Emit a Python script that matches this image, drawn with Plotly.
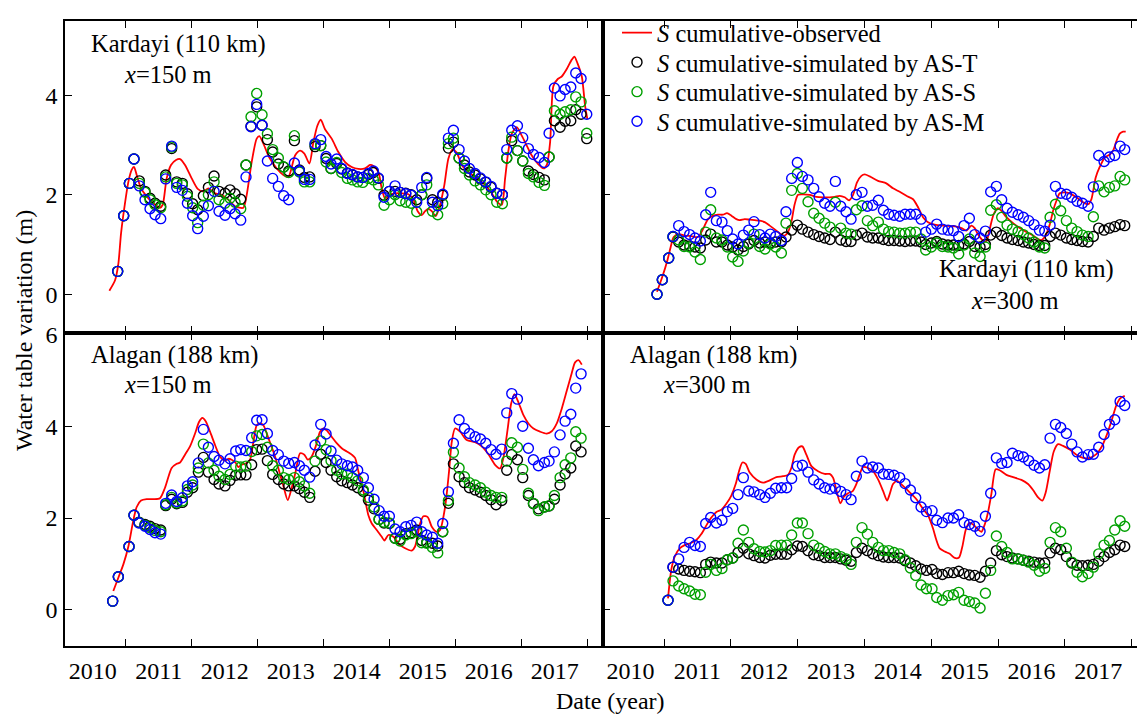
import plotly.graph_objects as go

FONT = "Liberation Serif"
RED, BLACK, GREEN, BLUE = "#ff0000", "#000000", "#00a000", "#0000ff"

# ---------------- tick labels ----------------
year_labels = ["2010", "2011", "2012", "2013", "2014", "2015", "2016", "2017"]
year_label_pos = [2010.5, 2011.5, 2012.5, 2013.5, 2014.5, 2015.5, 2016.5, 2017.5]
year_bounds = [2011, 2012, 2013, 2014, 2015, 2016, 2017, 2018]

# ---------------- Kardayi x=150 m (top-left) ----------------
tl_x = [2010.878, 2010.969, 2011.055, 2011.125, 2011.206, 2011.292, 2011.368, 2011.444, 2011.530, 2011.605,
        2011.696, 2011.772, 2011.858, 2011.934, 2012.014, 2012.090, 2012.176, 2012.252, 2012.338, 2012.413,
        2012.504, 2012.580, 2012.656, 2012.742, 2012.822, 2012.898, 2012.984, 2013.065, 2013.146, 2013.226,
        2013.312, 2013.393, 2013.469, 2013.555, 2013.631, 2013.706, 2013.787, 2013.868, 2013.954, 2014.035,
        2014.110, 2014.196, 2014.272, 2014.358, 2014.434, 2014.514, 2014.590, 2014.676, 2014.752, 2014.827,
        2014.913, 2014.994, 2015.080, 2015.156, 2015.242, 2015.323, 2015.408, 2015.484, 2015.560, 2015.646,
        2015.726, 2015.802, 2015.888, 2015.964, 2016.050, 2016.131, 2016.206, 2016.292, 2016.373, 2016.454,
        2016.534, 2016.620, 2016.706, 2016.772, 2016.848, 2016.934, 2017.014, 2017.100, 2017.176, 2017.262,
        2017.343, 2017.413, 2017.494, 2017.580, 2017.656, 2017.742, 2017.817, 2017.898, 2017.984]
tl_T = [0.46, 1.58, 2.23, 2.72, 2.28, 2.07, 1.93, 1.83, 1.77, 2.40,
        2.93, 2.26, 2.23, 2.02, 1.82, 1.70, 1.98, 2.15, 2.38, 2.07,
        2.03, 2.10, 2.02, 1.91, 2.60, 3.38, 3.77, 3.40, 3.11, 2.86,
        2.62, 2.56, 2.48, 3.09, 2.50, 2.35, 2.36, 2.97, 2.99, 2.73,
        2.53, 2.63, 2.52, 2.44, 2.40, 2.36, 2.35, 2.41, 2.45, 2.33,
        1.99, 2.07, 2.07, 2.05, 2.03, 2.00, 1.90, 2.00, 2.33, 1.90,
        1.85, 1.99, 2.94, 3.06, 2.74, 2.60, 2.46, 2.40, 2.32, 2.25,
        2.15, 2.03, 2.00, 2.74, 3.09, 2.89, 2.68, 2.48, 2.41, 2.35,
        2.30, 2.76, 3.49, 3.36, 3.48, 3.49, 3.71, 3.62, 3.13]
tl_S = [0.46, 1.58, 2.23, 2.72, 2.23, 2.05, 1.90, 1.80, 1.74, 2.36,
        2.96, 2.23, 2.20, 1.97, 1.74, 1.44, 1.79, 2.00, 2.26, 1.90,
        1.83, 1.93, 1.85, 1.72, 2.60, 3.57, 4.04, 3.61, 3.23, 2.91,
        2.74, 2.56, 2.45, 3.19, 2.46, 2.26, 2.26, 3.01, 2.99, 2.66,
        2.53, 2.65, 2.45, 2.33, 2.30, 2.26, 2.25, 2.33, 2.30, 2.20,
        1.79, 1.90, 2.00, 1.88, 1.85, 1.83, 1.66, 2.00, 2.20, 1.67,
        1.60, 1.82, 3.03, 3.14, 2.74, 2.53, 2.40, 2.28, 2.20, 2.10,
        2.00, 1.85, 1.82, 2.74, 3.16, 2.89, 2.68, 2.43, 2.36, 2.25,
        2.19, 2.76, 3.69, 3.62, 3.67, 3.71, 3.97, 3.87, 3.24]
tl_M = [0.46, 1.58, 2.23, 2.72, 2.18, 1.90, 1.72, 1.60, 1.52, 2.32,
        2.98, 2.15, 2.09, 1.83, 1.58, 1.32, 1.57, 1.78, 2.07, 1.67,
        1.59, 1.72, 1.62, 1.49, 2.36, 3.37, 3.82, 3.40, 2.68, 2.33,
        2.17, 1.98, 1.90, 2.64, 2.48, 2.31, 2.31, 3.03, 3.11, 2.77,
        2.62, 2.72, 2.53, 2.43, 2.41, 2.36, 2.35, 2.43, 2.48, 2.34,
        1.95, 2.07, 2.18, 2.05, 2.02, 1.99, 1.85, 2.15, 2.35, 1.85,
        1.78, 2.01, 3.14, 3.30, 2.91, 2.68, 2.53, 2.43, 2.34, 2.26,
        2.17, 2.03, 2.00, 2.91, 3.30, 3.39, 3.15, 2.93, 2.81, 2.75,
        2.65, 3.24, 4.15, 3.99, 4.12, 4.17, 4.45, 4.34, 3.62]
tl_obs = [(2010.752, 0.07), (2010.838, 0.28), (2010.888, 0.61), (2010.928, 1.21), (2010.979, 1.74),
          (2011.040, 2.26), (2011.090, 2.50), (2011.125, 2.56), (2011.166, 2.40), (2011.232, 2.13),
          (2011.317, 1.97), (2011.418, 1.83), (2011.519, 1.74), (2011.560, 1.80), (2011.620, 2.33),
          (2011.686, 2.60), (2011.762, 2.70), (2011.823, 2.72), (2011.898, 2.60), (2011.999, 2.33),
          (2012.090, 2.12), (2012.176, 2.07), (2012.252, 2.13), (2012.353, 2.03), (2012.454, 2.00),
          (2012.555, 1.90), (2012.656, 1.77), (2012.782, 1.74), (2012.833, 2.00), (2012.908, 2.66),
          (2012.984, 3.13), (2013.024, 3.18), (2013.085, 3.03), (2013.171, 2.76), (2013.287, 2.53),
          (2013.388, 2.40), (2013.464, 2.36), (2013.565, 2.79), (2013.641, 2.89), (2013.706, 2.83),
          (2013.782, 2.63), (2013.843, 3.06), (2013.903, 3.39), (2013.954, 3.51), (2014.019, 3.32),
          (2014.120, 3.13), (2014.221, 2.86), (2014.323, 2.66), (2014.423, 2.56), (2014.524, 2.52),
          (2014.625, 2.53), (2014.701, 2.60), (2014.752, 2.58), (2014.827, 2.46), (2014.878, 2.13),
          (2014.928, 1.93), (2015.004, 2.00), (2015.080, 2.03), (2015.181, 2.03), (2015.282, 2.01),
          (2015.358, 1.90), (2015.423, 1.67), (2015.484, 1.59), (2015.535, 1.67), (2015.585, 1.72),
          (2015.636, 1.67), (2015.696, 1.57), (2015.762, 1.80), (2015.827, 2.20), (2015.888, 2.73),
          (2015.949, 2.91), (2016.014, 2.85), (2016.090, 2.60), (2016.191, 2.46), (2016.292, 2.36),
          (2016.444, 2.20), (2016.545, 2.03), (2016.620, 1.87), (2016.696, 1.80), (2016.747, 2.33),
          (2016.797, 2.89), (2016.848, 3.23), (2016.923, 3.36), (2016.999, 3.19), (2017.075, 2.99),
          (2017.151, 2.79), (2017.252, 2.61), (2017.328, 2.53), (2017.378, 2.60), (2017.429, 3.06),
          (2017.479, 4.19), (2017.545, 4.33), (2017.605, 4.38), (2017.681, 4.53), (2017.757, 4.72),
          (2017.797, 4.78), (2017.843, 4.65), (2017.909, 4.38), (2017.959, 3.79), (2017.994, 3.52)]

# ---------------- Kardayi x=300 m (top-right) ----------------
tr_x = [2010.895, 2010.975, 2011.070, 2011.135, 2011.220, 2011.300, 2011.384, 2011.464, 2011.544, 2011.624,
        2011.699, 2011.784, 2011.868, 2011.948, 2012.028, 2012.108, 2012.188, 2012.268, 2012.347, 2012.432,
        2012.512, 2012.592, 2012.672, 2012.757, 2012.826, 2012.911, 2012.996, 2013.071, 2013.156, 2013.241,
        2013.321, 2013.405, 2013.485, 2013.565, 2013.645, 2013.725, 2013.800, 2013.879, 2013.964, 2014.044,
        2014.124, 2014.209, 2014.284, 2014.363, 2014.443, 2014.528, 2014.608, 2014.688, 2014.768, 2014.848,
        2014.917, 2015.002, 2015.082, 2015.167, 2015.252, 2015.332, 2015.411, 2015.491, 2015.571, 2015.651,
        2015.731, 2015.811, 2015.890, 2015.975, 2016.055, 2016.135, 2016.215, 2016.300, 2016.379, 2016.459,
        2016.539, 2016.619, 2016.699, 2016.779, 2016.859, 2016.938, 2017.023, 2017.103, 2017.183, 2017.263,
        2017.348, 2017.427, 2017.507, 2017.587, 2017.667, 2017.747, 2017.827, 2017.896]
tr_T = [0.00, 0.29, 0.73, 1.15, 1.05, 0.99, 0.97, 0.95, 0.93, 1.09,
        1.21, 1.05, 1.05, 0.99, 0.95, 0.89, 0.96, 1.01, 1.08, 1.03,
        1.05, 1.03, 1.05, 1.05, 1.15, 1.29, 1.39, 1.31, 1.25, 1.20,
        1.16, 1.13, 1.10, 1.25, 1.09, 1.06, 1.06, 1.19, 1.23, 1.15,
        1.13, 1.13, 1.10, 1.08, 1.08, 1.07, 1.06, 1.07, 1.07, 1.05,
        1.00, 1.03, 1.06, 1.01, 0.99, 0.99, 0.98, 1.01, 1.06, 0.96,
        0.95, 1.00, 1.19, 1.25, 1.18, 1.13, 1.10, 1.08, 1.05, 1.03,
        1.00, 0.98, 0.98, 1.16, 1.23, 1.19, 1.13, 1.10, 1.08, 1.06,
        1.05, 1.16, 1.33, 1.29, 1.33, 1.36, 1.40, 1.38]
tr_S = [0.00, 0.29, 0.73, 1.16, 1.09, 0.96, 0.95, 0.85, 0.70, 1.25,
        1.70, 1.13, 1.09, 0.95, 0.75, 0.66, 0.87, 1.03, 1.21, 0.96,
        0.91, 1.01, 0.95, 0.83, 1.43, 2.09, 2.43, 2.13, 1.86, 1.63,
        1.53, 1.43, 1.35, 1.85, 1.33, 1.23, 1.21, 1.70, 1.78, 1.48,
        1.38, 1.45, 1.31, 1.26, 1.25, 1.23, 1.23, 1.25, 1.25, 1.11,
        0.89, 0.95, 1.03, 0.96, 0.95, 0.93, 0.81, 0.99, 1.11, 0.83,
        0.76, 0.95, 1.69, 1.80, 1.55, 1.39, 1.31, 1.26, 1.20, 1.13,
        1.05, 0.95, 0.93, 1.55, 1.81, 1.68, 1.48, 1.33, 1.26, 1.19,
        1.16, 1.56, 2.18, 2.06, 2.15, 2.18, 2.37, 2.30]
tr_M = [0.00, 0.29, 0.73, 1.16, 1.38, 1.26, 1.20, 1.13, 1.07, 1.60,
        2.05, 1.48, 1.45, 1.28, 1.11, 1.01, 1.19, 1.29, 1.46, 1.20,
        1.13, 1.21, 1.16, 1.08, 1.66, 2.33, 2.65, 2.37, 2.30, 2.13,
        1.96, 1.83, 1.77, 2.27, 1.77, 1.66, 1.51, 2.00, 2.05, 1.77,
        1.79, 1.89, 1.69, 1.61, 1.59, 1.57, 1.61, 1.61, 1.61, 1.51,
        1.25, 1.31, 1.41, 1.31, 1.29, 1.28, 1.16, 1.38, 1.53, 1.20,
        1.13, 1.27, 2.06, 2.17, 1.90, 1.73, 1.65, 1.60, 1.55, 1.48,
        1.40, 1.29, 1.27, 1.39, 2.17, 2.03, 2.01, 1.95, 1.87, 1.83,
        1.77, 2.16, 2.79, 2.67, 2.76, 2.79, 2.98, 2.91]
tr_obs = [(2010.895, 0.05), (2010.975, 0.35), (2011.050, 0.68), (2011.100, 0.95), (2011.145, 1.15),
          (2011.220, 1.21), (2011.310, 1.18), (2011.409, 1.17), (2011.509, 1.15), (2011.584, 1.31),
          (2011.659, 1.51), (2011.734, 1.58), (2011.809, 1.60), (2011.883, 1.60), (2011.943, 1.63),
          (2012.008, 1.58), (2012.083, 1.51), (2012.133, 1.49), (2012.208, 1.51), (2012.283, 1.50),
          (2012.357, 1.49), (2012.432, 1.48), (2012.507, 1.45), (2012.582, 1.38), (2012.682, 1.28),
          (2012.757, 1.20), (2012.807, 1.18), (2012.856, 1.25), (2012.906, 1.45), (2012.956, 1.81),
          (2013.006, 2.00), (2013.081, 2.01), (2013.181, 2.00), (2013.281, 1.96), (2013.380, 1.95),
          (2013.480, 1.95), (2013.555, 1.96), (2013.630, 1.98), (2013.705, 1.95), (2013.770, 1.89),
          (2013.830, 2.00), (2013.889, 2.25), (2013.954, 2.38), (2014.004, 2.41), (2014.079, 2.37),
          (2014.204, 2.28), (2014.328, 2.23), (2014.428, 2.13), (2014.528, 2.06), (2014.628, 1.98),
          (2014.728, 1.91), (2014.803, 1.75), (2014.877, 1.55), (2014.952, 1.45), (2015.052, 1.40),
          (2015.177, 1.38), (2015.301, 1.37), (2015.376, 1.36), (2015.451, 1.33), (2015.526, 1.28),
          (2015.601, 1.38), (2015.651, 1.33), (2015.701, 1.20), (2015.776, 1.08), (2015.826, 1.07),
          (2015.875, 1.31), (2015.935, 1.61), (2016.000, 1.73), (2016.050, 1.68), (2016.125, 1.55),
          (2016.225, 1.43), (2016.325, 1.33), (2016.424, 1.25), (2016.524, 1.18), (2016.599, 1.11),
          (2016.649, 1.09), (2016.699, 1.15), (2016.774, 1.40), (2016.824, 1.68), (2016.874, 1.88),
          (2016.923, 2.03), (2016.998, 2.05), (2017.073, 2.03), (2017.173, 1.95), (2017.273, 1.85),
          (2017.348, 1.81), (2017.397, 1.91), (2017.462, 2.35), (2017.522, 2.56), (2017.597, 2.75),
          (2017.672, 2.81), (2017.722, 2.89), (2017.772, 3.08), (2017.822, 3.23), (2017.871, 3.27),
          (2017.911, 3.27)]

# ---------------- Alagan x=150 m (bottom-left) ----------------
bl_x = [2010.802, 2010.888, 2011.050, 2011.125, 2011.201, 2011.292, 2011.368, 2011.444, 2011.530, 2011.605,
        2011.696, 2011.772, 2011.858, 2011.934, 2012.014, 2012.100, 2012.176, 2012.252, 2012.338, 2012.413,
        2012.504, 2012.580, 2012.666, 2012.742, 2012.822, 2012.908, 2012.984, 2013.065, 2013.146, 2013.226,
        2013.312, 2013.393, 2013.469, 2013.555, 2013.631, 2013.706, 2013.787, 2013.868, 2013.954, 2014.035,
        2014.110, 2014.196, 2014.272, 2014.358, 2014.434, 2014.514, 2014.600, 2014.676, 2014.762, 2014.838,
        2014.913, 2014.994, 2015.080, 2015.156, 2015.242, 2015.323, 2015.408, 2015.484, 2015.560, 2015.646,
        2015.726, 2015.802, 2015.888, 2015.964, 2016.050, 2016.131, 2016.206, 2016.292, 2016.373, 2016.454,
        2016.534, 2016.610, 2016.696, 2016.772, 2016.848, 2016.934, 2017.014, 2017.100, 2017.176, 2017.252,
        2017.343, 2017.413, 2017.494, 2017.580, 2017.656, 2017.742, 2017.817, 2017.898]
bl_T = [0.19, 0.72, 1.38, 2.06, 1.91, 1.86, 1.82, 1.77, 1.74, 2.27,
        2.41, 2.31, 2.34, 2.56, 2.66, 3.00, 3.32, 3.00, 2.84, 2.74,
        2.70, 2.82, 2.93, 2.94, 2.94, 3.16, 3.49, 3.50, 3.25, 2.95,
        2.84, 2.74, 2.70, 2.70, 2.64, 2.56, 2.45, 3.02, 3.39, 3.21,
        3.04, 2.90, 2.81, 2.77, 2.72, 2.66, 2.58, 2.39, 2.20, 1.97,
        1.89, 1.88, 1.56, 1.54, 1.66, 1.68, 1.74, 1.51, 1.47, 1.45,
        1.39, 1.70, 2.32, 3.18, 2.90, 2.77, 2.66, 2.61, 2.56, 2.49,
        2.40, 2.29, 2.38, 3.04, 3.38, 3.27, 2.88, 2.49, 2.31, 2.20,
        2.24, 2.26, 2.41, 2.72, 2.96, 3.09, 3.57, 3.44]
bl_S = [0.19, 0.72, 1.38, 2.06, 1.90, 1.84, 1.79, 1.73, 1.70, 2.29,
        2.45, 2.33, 2.37, 2.62, 2.72, 3.09, 3.61, 3.20, 3.04, 2.91,
        2.84, 2.95, 3.13, 3.11, 3.13, 3.45, 3.79, 3.82, 3.54, 3.14,
        3.04, 2.88, 2.84, 2.88, 2.79, 2.70, 2.54, 3.24, 3.68, 3.49,
        3.25, 3.04, 2.96, 2.96, 2.88, 2.81, 2.61, 2.45, 2.24, 1.97,
        1.91, 1.89, 1.56, 1.50, 1.63, 1.66, 1.70, 1.46, 1.45, 1.36,
        1.24, 1.70, 2.38, 3.43, 3.09, 2.90, 2.77, 2.72, 2.66, 2.56,
        2.49, 2.45, 2.45, 3.24, 3.64, 3.54, 3.06, 2.54, 2.32, 2.16,
        2.24, 2.27, 2.49, 2.88, 3.16, 3.31, 3.88, 3.74]
bl_M = [0.19, 0.72, 1.38, 2.06, 1.89, 1.82, 1.75, 1.68, 1.65, 2.32,
        2.50, 2.36, 2.44, 2.70, 2.79, 3.20, 3.93, 3.54, 3.34, 3.26,
        3.18, 3.29, 3.46, 3.49, 3.47, 3.75, 4.13, 4.14, 3.84, 3.47,
        3.38, 3.24, 3.19, 3.21, 3.14, 3.04, 2.89, 3.59, 4.04, 3.83,
        3.46, 3.26, 3.18, 3.14, 3.11, 3.04, 2.88, 2.66, 2.41, 2.16,
        2.04, 2.04, 1.76, 1.70, 1.81, 1.84, 1.91, 1.70, 1.63, 1.58,
        1.45, 1.88, 2.57, 3.63, 4.14, 3.95, 3.84, 3.77, 3.72, 3.63,
        3.49, 3.39, 3.50, 4.29, 4.71, 4.59, 4.00, 3.52, 3.27, 3.14,
        3.21, 3.24, 3.44, 3.81, 4.11, 4.26, 4.83, 5.14]
bl_obs = [(2010.812, 0.41), (2010.888, 0.70), (2010.964, 0.99), (2011.040, 1.38), (2011.115, 1.95),
          (2011.166, 2.24), (2011.232, 2.38), (2011.317, 2.41), (2011.418, 2.41), (2011.519, 2.43),
          (2011.595, 2.66), (2011.696, 3.09), (2011.772, 3.18), (2011.823, 3.21), (2011.898, 3.38),
          (2011.974, 3.56), (2012.050, 3.84), (2012.110, 4.09), (2012.161, 4.18), (2012.211, 4.11),
          (2012.277, 3.88), (2012.353, 3.59), (2012.428, 3.34), (2012.504, 3.25), (2012.555, 3.29),
          (2012.605, 3.27), (2012.666, 3.20), (2012.706, 3.11), (2012.757, 3.16), (2012.833, 3.20),
          (2012.883, 3.27), (2012.934, 3.66), (2012.984, 4.02), (2013.034, 4.06), (2013.085, 4.02),
          (2013.161, 3.74), (2013.262, 3.34), (2013.338, 2.95), (2013.388, 2.70), (2013.454, 2.39),
          (2013.515, 2.66), (2013.575, 3.02), (2013.641, 3.41), (2013.706, 3.38), (2013.757, 3.27),
          (2013.817, 3.34), (2013.878, 3.56), (2013.944, 3.88), (2013.994, 3.95), (2014.044, 3.91),
          (2014.120, 3.77), (2014.196, 3.63), (2014.272, 3.52), (2014.348, 3.45), (2014.424, 3.38),
          (2014.474, 3.31), (2014.524, 3.02), (2014.600, 2.59), (2014.676, 2.06), (2014.727, 1.88),
          (2014.802, 1.74), (2014.878, 1.59), (2014.919, 1.51), (2014.979, 1.63), (2015.055, 1.59),
          (2015.131, 1.45), (2015.232, 1.34), (2015.333, 1.29), (2015.383, 1.38), (2015.459, 1.88),
          (2015.509, 2.04), (2015.575, 2.02), (2015.636, 1.81), (2015.711, 1.70), (2015.762, 1.74),
          (2015.838, 2.24), (2015.898, 3.02), (2015.939, 3.66), (2015.989, 3.95), (2016.065, 3.88),
          (2016.166, 3.70), (2016.292, 3.65), (2016.393, 3.56), (2016.494, 3.39), (2016.595, 3.16),
          (2016.671, 3.08), (2016.721, 3.31), (2016.787, 3.95), (2016.838, 4.49), (2016.888, 4.70),
          (2016.949, 4.52), (2017.025, 4.24), (2017.100, 4.06), (2017.176, 3.95), (2017.277, 3.88),
          (2017.378, 3.84), (2017.454, 3.89), (2017.530, 4.06), (2017.605, 4.38), (2017.681, 4.77),
          (2017.757, 5.16), (2017.807, 5.39), (2017.858, 5.44), (2017.909, 5.34)]

# ---------------- Alagan x=300 m (bottom-right) ----------------
br_x = [2011.060, 2011.135, 2011.220, 2011.300, 2011.384, 2011.464, 2011.544, 2011.624, 2011.699, 2011.784,
        2011.868, 2011.948, 2012.028, 2012.108, 2012.188, 2012.268, 2012.347, 2012.432, 2012.512, 2012.592,
        2012.672, 2012.757, 2012.836, 2012.911, 2012.996, 2013.071, 2013.156, 2013.241, 2013.321, 2013.405,
        2013.485, 2013.565, 2013.645, 2013.725, 2013.800, 2013.879, 2013.964, 2014.044, 2014.124, 2014.209,
        2014.284, 2014.363, 2014.443, 2014.528, 2014.608, 2014.688, 2014.768, 2014.848, 2014.928, 2015.012,
        2015.082, 2015.167, 2015.252, 2015.332, 2015.411, 2015.491, 2015.571, 2015.651, 2015.731, 2015.811,
        2015.890, 2015.975, 2016.055, 2016.135, 2016.215, 2016.300, 2016.379, 2016.459, 2016.539, 2016.619,
        2016.699, 2016.779, 2016.859, 2016.938, 2017.023, 2017.103, 2017.183, 2017.263, 2017.348, 2017.427,
        2017.507, 2017.587, 2017.667, 2017.747, 2017.827, 2017.896]
br_T = [0.21, 0.93, 0.89, 0.86, 0.84, 0.83, 0.81, 0.99, 1.04, 1.02,
        1.02, 1.09, 1.13, 1.25, 1.34, 1.22, 1.18, 1.14, 1.13, 1.19,
        1.21, 1.21, 1.21, 1.31, 1.39, 1.38, 1.29, 1.20, 1.18, 1.14,
        1.14, 1.14, 1.11, 1.08, 1.06, 1.25, 1.34, 1.29, 1.22, 1.18,
        1.15, 1.14, 1.14, 1.13, 1.07, 1.02, 0.96, 0.89, 0.86, 0.88,
        0.79, 0.77, 0.81, 0.81, 0.84, 0.79, 0.76, 0.75, 0.71, 0.84,
        1.02, 1.29, 1.20, 1.16, 1.13, 1.11, 1.08, 1.06, 1.04, 1.02,
        1.02, 1.24, 1.34, 1.31, 1.16, 1.02, 0.97, 0.96, 0.97, 0.99,
        1.06, 1.16, 1.25, 1.31, 1.41, 1.38]
br_S = [0.21, 0.63, 0.52, 0.46, 0.41, 0.34, 0.33, 0.82, 0.99, 0.86,
        0.90, 1.09, 1.13, 1.45, 1.74, 1.47, 1.33, 1.27, 1.26, 1.29,
        1.40, 1.41, 1.41, 1.63, 1.89, 1.89, 1.66, 1.41, 1.34, 1.27,
        1.22, 1.22, 1.16, 1.11, 0.99, 1.47, 1.79, 1.65, 1.47, 1.36,
        1.29, 1.29, 1.25, 1.22, 1.09, 0.91, 0.75, 0.54, 0.46, 0.46,
        0.27, 0.21, 0.31, 0.33, 0.38, 0.21, 0.18, 0.15, 0.04, 0.36,
        0.86, 1.61, 1.38, 1.25, 1.11, 1.11, 1.08, 1.04, 0.97, 0.84,
        0.90, 1.47, 1.79, 1.70, 1.34, 1.04, 0.82, 0.72, 0.79, 0.93,
        1.22, 1.41, 1.51, 1.74, 1.94, 1.82]
br_M = [0.21, 0.93, 1.11, 1.36, 1.47, 1.40, 1.38, 1.88, 2.01, 1.89,
        1.95, 2.14, 2.21, 2.51, 2.88, 2.59, 2.57, 2.51, 2.45, 2.54,
        2.65, 2.66, 2.66, 2.86, 3.13, 3.15, 3.00, 2.83, 2.74, 2.66,
        2.63, 2.65, 2.58, 2.51, 2.40, 2.91, 3.24, 3.09, 3.11, 3.09,
        2.96, 2.95, 2.93, 2.88, 2.75, 2.61, 2.44, 2.24, 2.14, 2.16,
        1.95, 1.90, 2.00, 2.00, 2.07, 1.90, 1.86, 1.82, 1.71, 2.04,
        2.54, 3.31, 3.19, 3.21, 3.41, 3.36, 3.33, 3.25, 3.15, 3.09,
        3.16, 3.74, 4.04, 3.97, 3.84, 3.61, 3.44, 3.33, 3.38, 3.39,
        3.54, 3.82, 4.04, 4.14, 4.54, 4.45]
br_obs = [(2011.060, 0.25), (2011.110, 0.88), (2011.160, 1.16), (2011.235, 1.34), (2011.310, 1.41),
          (2011.394, 1.45), (2011.484, 1.52), (2011.559, 1.65), (2011.634, 1.84), (2011.709, 2.01),
          (2011.784, 2.13), (2011.858, 2.18), (2011.933, 2.31), (2012.008, 2.49), (2012.073, 2.74),
          (2012.123, 3.02), (2012.173, 3.21), (2012.223, 3.18), (2012.283, 2.99), (2012.382, 2.84),
          (2012.482, 2.77), (2012.582, 2.82), (2012.682, 2.89), (2012.782, 2.91), (2012.856, 2.94),
          (2012.906, 3.09), (2012.956, 3.38), (2013.021, 3.54), (2013.071, 3.56), (2013.131, 3.38),
          (2013.206, 3.13), (2013.306, 3.02), (2013.405, 2.96), (2013.480, 2.96), (2013.530, 2.88),
          (2013.580, 2.61), (2013.640, 2.32), (2013.690, 2.46), (2013.755, 2.54), (2013.820, 2.58),
          (2013.879, 2.74), (2013.929, 2.95), (2013.979, 3.11), (2014.054, 3.09), (2014.129, 3.02),
          (2014.204, 2.84), (2014.279, 2.59), (2014.339, 2.38), (2014.378, 2.52), (2014.428, 2.74),
          (2014.488, 2.81), (2014.578, 2.70), (2014.678, 2.56), (2014.778, 2.41), (2014.877, 2.20),
          (2014.952, 2.06), (2015.027, 1.77), (2015.077, 1.52), (2015.127, 1.34), (2015.202, 1.27),
          (2015.277, 1.22), (2015.351, 1.13), (2015.416, 1.14), (2015.466, 1.38), (2015.516, 1.74),
          (2015.566, 1.89), (2015.626, 1.86), (2015.701, 1.75), (2015.751, 1.70), (2015.801, 1.86),
          (2015.851, 2.13), (2015.900, 2.52), (2015.965, 3.06), (2016.025, 3.04), (2016.125, 2.94),
          (2016.225, 2.89), (2016.350, 2.83), (2016.449, 2.74), (2016.524, 2.61), (2016.599, 2.45),
          (2016.664, 2.38), (2016.714, 2.56), (2016.774, 3.02), (2016.834, 3.45), (2016.899, 3.61),
          (2016.973, 3.57), (2017.073, 3.49), (2017.173, 3.38), (2017.273, 3.31), (2017.373, 3.31),
          (2017.472, 3.39), (2017.547, 3.54), (2017.622, 3.79), (2017.697, 4.11), (2017.772, 4.46),
          (2017.832, 4.61), (2017.896, 4.66)]

series_names = ["<i>S</i> cumulative-observed",
                "<i>S</i> cumulative-simulated by AS-T",
                "<i>S</i> cumulative-simulated by AS-S",
                "<i>S</i> cumulative-simulated by AS-M"]

# ---------------- figure ----------------
W, H = 1137, 718


def px(x):
    return x / W


def py(y):
    return 1 - y / H


fig = go.Figure()

panels = [
    ("x", "y", tl_x, tl_T, tl_S, tl_M, tl_obs, True),
    ("x2", "y2", tr_x, tr_T, tr_S, tr_M, tr_obs, False),
    ("x3", "y3", bl_x, bl_T, bl_S, bl_M, bl_obs, False),
    ("x4", "y4", br_x, br_T, br_S, br_M, br_obs, False),
]
legend_ids = ["legend", "legend2", "legend3", "legend4"]

for xa, ya, xs, sT, sS, sM, obs, leg in panels:
    ox = [p[0] for p in obs]
    oy = [p[1] for p in obs]
    fig.add_trace(go.Scatter(x=ox, y=oy, mode="lines", name=series_names[0],
                             line=dict(color=RED, width=1.8, shape="spline", smoothing=0.7),
                             showlegend=leg, legend=legend_ids[0], xaxis=xa, yaxis=ya))
    for k, (vals, col) in enumerate([(sT, BLACK), (sS, GREEN), (sM, BLUE)], start=1):
        fig.add_trace(go.Scatter(x=xs, y=vals, mode="markers", name=series_names[k],
                                 marker=dict(symbol="circle-open", size=10, color=col,
                                             line=dict(width=1.4, color=col)),
                                 showlegend=leg, legend=legend_ids[k], xaxis=xa, yaxis=ya))

tickfont = dict(family=FONT, size=24, color="black")
xl = [65 / W, 603 / W]
xr = [603 / W, 1.0]
yt = [py(327), py(10)]
yb = [py(645), py(327)]
rng_l = [2010.08, 2018.23]
rng_r = [2010.087, 2018.08]


def xaxis(domain, rng, anchor, labels):
    return dict(domain=domain, range=rng, anchor=anchor, showline=True, linecolor="black", linewidth=1.6,
                mirror="ticks", showgrid=False, zeroline=False, ticks="",
                tickmode="array", tickvals=year_label_pos, ticktext=year_labels,
                showticklabels=labels, tickfont=tickfont, ticklabelstandoff=2,
                minor=dict(tickmode="array", tickvals=year_bounds, ticks="inside", ticklen=7,
                           tickwidth=1.4, tickcolor="black", showgrid=False))


def yaxis(domain, rng, anchor, tv, labels, mirror):
    return dict(domain=domain, range=rng, anchor=anchor, showline=True, linecolor="black", linewidth=1.6,
                mirror=mirror, showgrid=False, zeroline=False, ticks="inside", ticklen=7, tickwidth=1.4,
                tickcolor="black", tickmode="array", tickvals=tv, showticklabels=labels,
                tickfont=tickfont, ticklabelstandoff=1)


legend_rows = [22, 52, 82, 112]
legend_layout = {}
for lid, row in zip(legend_ids, legend_rows):
    legend_layout[lid] = dict(x=px(617), y=py(row), xanchor="left", yanchor="middle",
                              bgcolor="rgba(0,0,0,0)", borderwidth=0,
                              font=dict(family=FONT, size=24.5, color="black"))

fig.update_layout(
    width=W, height=H, margin=dict(l=0, r=0, t=0, b=0),
    paper_bgcolor="white", plot_bgcolor="white",
    font=dict(family=FONT, color="black"),
    xaxis=xaxis(xl, rng_l, "y", False),
    xaxis2=xaxis(xr, rng_r, "y2", False),
    xaxis3=xaxis(xl, rng_l, "y3", True),
    xaxis4=xaxis(xr, rng_r, "y4", True),
    yaxis=yaxis(yt, [-0.78, 5.5], "x", [0, 2, 4], True, True),
    yaxis2=yaxis(yt, [-0.78, 5.5], "x2", [0, 2, 4], False, False),
    yaxis3=yaxis(yb, [-0.79, 6.03], "x3", [0, 2, 4, 6], True, True),
    yaxis4=yaxis(yb, [-0.79, 6.03], "x4", [0, 2, 4, 6], False, False),
    showlegend=True,
    **legend_layout,
)

labels = [
    ("Kardayi (110 km)", 89, 34), ("<i>x</i>=150 m", 122, 64),
    ("Kardayi (110 km)", 937, 262), ("<i>x</i>=300 m", 969, 294),
    ("Alagan (188 km)", 89, 349), ("<i>x</i>=150 m", 122, 379),
    ("Alagan (188 km)", 628, 349), ("<i>x</i>=300 m", 661, 379),
]
for txt, x, y in labels:
    fig.add_annotation(text=txt, x=px(x), y=py(y), xref="paper", yref="paper",
                       xanchor="left", yanchor="middle", showarrow=False,
                       font=dict(family=FONT, size=24.5, color="black"))

fig.add_annotation(text="Water table variation (m)", x=px(24), y=py(325), xref="paper", yref="paper",
                   textangle=-90, showarrow=False, xanchor="center", yanchor="middle",
                   font=dict(family=FONT, size=24, color="black"))
fig.add_annotation(text="Date (year)", x=px(610), y=py(701), xref="paper", yref="paper",
                   showarrow=False, xanchor="center", yanchor="middle",
                   font=dict(family=FONT, size=24, color="black"))

fig.write_html("out.html")
